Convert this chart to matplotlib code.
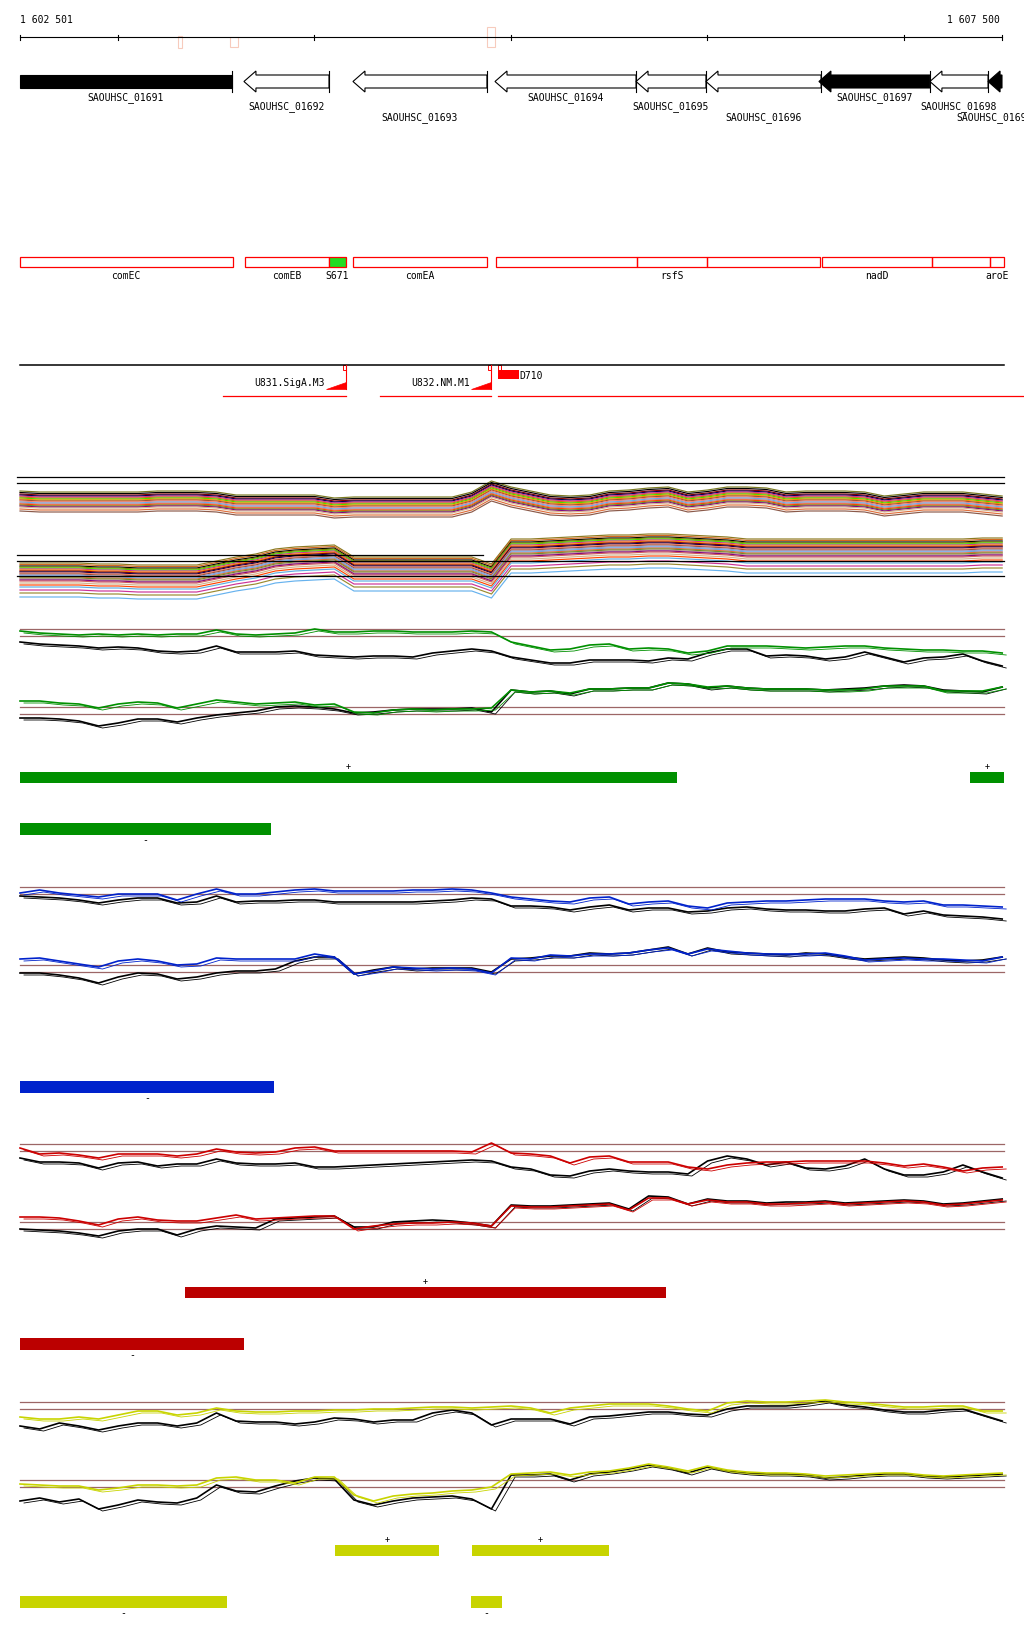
import matplotlib

matplotlib.use("Agg")
import matplotlib.pyplot as plt
import numpy as np
from matplotlib.patches import Polygon, Rectangle

plt.rcParams["font.family"] = ["DejaVu Sans Mono"]

# ---------------------------------------------------------------- window / ruler
WIN_START = 1602501
WIN_END = 1607500
RULER_TICKS = [1602501, 1603000, 1604000, 1605000, 1606000, 1607000, 1607500]
SITE_MARK_START = [1603305, 1603570, 1604878]
SITE_MARK_END = [1603325, 1603611, 1604919]

# ---------------------------------------------------------------- genes
GENE_NAMES = ["SAOUHSC_01691", "SAOUHSC_01692", "SAOUHSC_01693", "SAOUHSC_01694",
              "SAOUHSC_01695", "SAOUHSC_01696", "SAOUHSC_01697", "SAOUHSC_01698",
              "SAOUHSC_01699"]
GENE_START = [1602501, 1603641, 1604196, 1604919, 1605637, 1605993, 1606568, 1607133, 1607429]
GENE_END = [1603580, 1604074, 1604878, 1605637, 1605993, 1606579, 1607133, 1607429, 1607500]
GENE_STRAND = [0, -1, -1, -1, -1, -1, -1, -1, -1]
GENE_FILLED = [True, False, False, False, False, False, True, False, True]

# ---------------------------------------------------------------- annotation boxes
FEAT_NAMES = ["comEC", "comEB", "comEA", "", "rsfS", "", "nadD", "", "aroE"]
FEAT_START = [1602501, 1603646, 1604196, 1604924, 1605642, 1605998, 1606584, 1607144, 1607439]
FEAT_END = [1603583, 1604074, 1604878, 1605642, 1605998, 1606574, 1607144, 1607439, 1607510]
SRNA_NAME = "S671"
SRNA_START = 1604074
SRNA_END = 1604161

# ---------------------------------------------------------------- promoters / terminator
PROM_NAMES = ["U831.SigA.M3", "U832.NM.M1"]
PROM_POS = [1604161, 1604899]
PROM_SPAN_START = [1603534, 1604334]
TERM_NAME = "D710"
TERM_START = 1604934
TERM_END = 1605041

# ---------------------------------------------------------------- expression traces
POS = np.arange(WIN_START, WIN_END + 2, 100)  # one reading every 100 bp

BAND_UPPER = [492, 493, 493, 493, 493, 493, 493, 492, 492, 492, 493, 496, 496, 496, 496, 496, 499,
              498, 498, 498, 498, 498, 498, 493, 482, 488, 492, 496, 497, 496, 492, 491, 489, 488,
              493, 491, 488, 488, 489, 493, 492, 492, 492, 493, 497, 495, 493, 493, 493, 495, 497]
BAND_LOWER = [564, 564, 564, 564, 565, 565, 566, 566, 566, 566, 562, 558, 555, 550, 548, 547, 546,
              558, 558, 558, 558, 558, 558, 558, 565, 540, 540, 539, 538, 537, 536, 536, 535, 535,
              536, 537, 538, 540, 540, 540, 540, 540, 540, 540, 540, 540, 540, 540, 540, 539, 539]
BAND_UPPER_SPREAD = [0, 1.5, 3, 4, 5, 6, 7, 8, 9, 10, 11, 12, 13, 14, 15, 16, 18, 20]
BAND_UPPER_COLORS = ["#7a7a20", "#000000", "#8b0000", "#00004d", "#cc3399", "#d2691e", "#44dd00",
                     "#ff8c00", "#a0522d", "#fa8072", "#66aaee", "#bc8f8f", "#ff4500", "#6b8e23",
                     "#800080", "#d2b48c", "#e0703c", "#8b5a4a"]
BAND_LOWER_SPREAD = [0, 1.5, 3, 4, 5, 6, 7, 8, 9, 10, 11, 12, 13, 14, 15, 16, 17, 18, 20, 22,
                     24, 27, 30, 34]
BAND_LOWER_COLORS = ["#8b7a20", "#d2691e", "#000000", "#808000", "#44dd00", "#cc3399", "#ff8c00",
                     "#8b0000", "#00004d", "#fa8072", "#a0522d", "#9999cc", "#66aaee", "#e0703c",
                     "#6b8e23", "#bc8f8f", "#800080", "#cd5c5c", "#d2b48c", "#ff4500", "#5dade2",
                     "#cc3399", "#9a8a30", "#66b2ee"]

GREEN_UP = [632, 634, 635, 636, 635, 636, 635, 636, 635, 635, 631, 635, 636, 635, 634, 630, 633,
            633, 632, 632, 633, 633, 633, 632, 633, 643, 647, 651, 650, 646, 645, 650, 649, 650,
            654, 652, 647, 647, 647, 648, 649, 648, 647, 647, 649, 650, 651, 651, 652, 652, 654]
GREEN_UP_REF = [643, 645, 646, 647, 649, 648, 649, 652, 653, 652, 647, 653, 653, 653, 652, 656,
                657, 658, 657, 657, 658, 654, 652, 650, 652, 658, 661, 664, 664, 661, 661, 661,
                662, 659, 660, 654, 650, 650, 657, 656, 657, 660, 658, 653, 658, 663, 659, 658,
                655, 662, 667]
GREEN_LO = [702, 702, 704, 705, 709, 705, 703, 704, 709, 705, 701, 703, 705, 704, 703, 706, 705,
            713, 714, 711, 710, 711, 710, 710, 709, 691, 693, 692, 694, 690, 690, 689, 689, 684,
            685, 688, 687, 689, 690, 690, 690, 691, 691, 690, 687, 687, 687, 692, 692, 692, 688]
GREEN_LO_REF = [719, 719, 720, 722, 727, 724, 720, 720, 723, 719, 716, 714, 712, 708, 707, 708,
                710, 714, 713, 711, 710, 710, 710, 709, 713, 691, 693, 692, 695, 690, 690, 689,
                689, 684, 685, 689, 687, 689, 690, 690, 690, 691, 690, 689, 687, 686, 687, 691,
                692, 693, 688]

BLUE_UP = [894, 891, 894, 896, 898, 895, 895, 895, 901, 895, 890, 895, 895, 893, 891, 890, 892,
           892, 892, 892, 891, 891, 890, 891, 894, 898, 900, 902, 903, 899, 898, 905, 903, 902,
           907, 909, 904, 903, 902, 902, 901, 900, 900, 900, 902, 903, 902, 906, 906, 907, 908]
BLUE_UP_REF = [897, 898, 899, 901, 904, 901, 899, 899, 904, 903, 897, 903, 902, 902, 901, 901,
               903, 903, 903, 903, 903, 902, 901, 899, 900, 907, 907, 908, 911, 908, 906, 911,
               909, 909, 913, 912, 909, 908, 910, 911, 911, 912, 912, 910, 909, 915, 912, 916,
               917, 918, 920]
BLUE_LO = [960, 959, 962, 965, 968, 962, 960, 962, 966, 965, 959, 960, 960, 960, 960, 955, 958,
           975, 972, 968, 969, 970, 969, 970, 974, 959, 960, 956, 957, 955, 955, 954, 951, 949,
           955, 950, 952, 954, 955, 955, 955, 954, 957, 961, 960, 959, 960, 960, 961, 962, 958]
BLUE_LO_REF = [974, 974, 976, 979, 984, 978, 974, 975, 980, 978, 974, 972, 972, 970, 962, 958,
               958, 975, 971, 968, 970, 969, 969, 969, 973, 960, 959, 957, 957, 954, 955, 954,
               951, 948, 955, 949, 953, 954, 955, 956, 954, 955, 958, 960, 959, 958, 959, 961,
               962, 961, 958]

RED_UP = [1149, 1155, 1154, 1156, 1159, 1155, 1155, 1155, 1157, 1155, 1150, 1153, 1154, 1153,
          1149, 1148, 1152, 1152, 1152, 1152, 1152, 1152, 1152, 1153, 1144, 1154, 1155, 1157,
          1164, 1158, 1157, 1163, 1163, 1163, 1168, 1170, 1166, 1164, 1163, 1163, 1162, 1162,
          1162, 1162, 1164, 1167, 1165, 1168, 1172, 1169, 1168]
RED_UP_REF = [1159, 1163, 1163, 1164, 1169, 1164, 1163, 1167, 1165, 1165, 1160, 1164, 1165,
              1165, 1164, 1168, 1168, 1167, 1166, 1165, 1164, 1163, 1162, 1161, 1162, 1168,
              1170, 1176, 1177, 1172, 1170, 1172, 1173, 1173, 1175, 1162, 1157, 1160, 1166,
              1163, 1169, 1170, 1167, 1160, 1170, 1176, 1176, 1173, 1166, 1173, 1179]
RED_LO = [1218, 1218, 1219, 1222, 1226, 1220, 1218, 1221, 1222, 1222, 1219, 1216, 1220, 1219,
          1218, 1217, 1217, 1230, 1227, 1225, 1224, 1224, 1223, 1224, 1227, 1207, 1208, 1208,
          1207, 1206, 1205, 1211, 1199, 1199, 1205, 1201, 1203, 1203, 1205, 1205, 1204, 1203,
          1205, 1204, 1203, 1202, 1203, 1206, 1205, 1203, 1201]
RED_LO_REF = [1230, 1231, 1232, 1234, 1237, 1232, 1230, 1230, 1236, 1230, 1227, 1228, 1229,
              1220, 1219, 1218, 1217, 1228, 1228, 1223, 1222, 1221, 1222, 1224, 1227, 1206,
              1207, 1207, 1206, 1205, 1204, 1210, 1197, 1198, 1205, 1200, 1202, 1202, 1204,
              1203, 1203, 1202, 1204, 1203, 1202, 1201, 1202, 1205, 1204, 1202, 1200]

YEL_UP = [1418, 1420, 1420, 1418, 1420, 1416, 1412, 1412, 1416, 1414, 1409, 1412, 1413, 1413,
          1412, 1412, 1411, 1411, 1410, 1410, 1409, 1408, 1408, 1409, 1408, 1407, 1409, 1414,
          1409, 1407, 1405, 1405, 1405, 1407, 1410, 1412, 1404, 1402, 1403, 1403, 1402, 1401,
          1403, 1404, 1406, 1408, 1408, 1407, 1407, 1412, 1412]
YEL_UP_REF = [1427, 1430, 1424, 1427, 1431, 1427, 1424, 1424, 1427, 1424, 1414, 1422, 1423,
              1423, 1425, 1423, 1419, 1420, 1423, 1421, 1421, 1414, 1411, 1414, 1426, 1420,
              1420, 1420, 1425, 1418, 1417, 1415, 1413, 1413, 1415, 1416, 1410, 1407, 1407,
              1407, 1405, 1402, 1406, 1408, 1411, 1413, 1413, 1411, 1410, 1416, 1422]
YEL_LO = [1485, 1486, 1487, 1487, 1491, 1489, 1486, 1486, 1487, 1486, 1479, 1478, 1481, 1481,
          1484, 1478, 1478, 1496, 1502, 1497, 1495, 1494, 1492, 1491, 1488, 1475, 1474, 1473,
          1476, 1473, 1472, 1469, 1465, 1468, 1472, 1467, 1471, 1473, 1474, 1474, 1475, 1477,
          1476, 1475, 1474, 1474, 1476, 1477, 1476, 1475, 1474]
YEL_LO_REF = [1502, 1499, 1503, 1500, 1510, 1506, 1501, 1503, 1504, 1499, 1486, 1492, 1493,
              1487, 1482, 1479, 1480, 1501, 1506, 1502, 1499, 1498, 1497, 1500, 1510, 1476,
              1476, 1475, 1481, 1475, 1473, 1470, 1466, 1469, 1474, 1468, 1472, 1474, 1475,
              1475, 1476, 1479, 1478, 1476, 1475, 1475, 1477, 1478, 1477, 1476, 1475]

# transcribed segments (start, end) per condition, plus and minus strand
GREEN_PLUS = [(1602501, 1605846), (1607337, 1607510)]
GREEN_MINUS = [(1602501, 1603779)]
BLUE_PLUS = []
BLUE_MINUS = [(1602501, 1603794)]
RED_PLUS = [(1603341, 1605788)]
RED_MINUS = [(1602501, 1603641)]
YEL_PLUS = [(1604105, 1604634), (1604802, 1605500)]
YEL_MINUS = [(1602501, 1603555), (1604797, 1604955)]

# ---------------------------------------------------------------- layout (pixel rows)
BP_PER_PX = (WIN_END - WIN_START) / 982.0
X0 = WIN_START - 20 * BP_PER_PX
X1 = X0 + 1024 * BP_PER_PX
RULER_Y = 38
GENE_TOP, GENE_BOT, GENE_HEAD_TOP, GENE_HEAD_BOT = 76, 89, 72, 93
GENE_LABEL_ROWS = [97.5, 106.5, 117.5]
HEAD_BP = 12 * BP_PER_PX
FEAT_TOP, FEAT_BOT, FEAT_LABEL_Y = 258.3, 268.3, 275.7
PROM_LINE_Y = 366
PANEL_TOPS = [630.3, 888.3, 1145.3, 1403.3]
BROWN = "#9c6666"
FS = 7

fig = plt.figure(figsize=(10.24, 16.40), dpi=100)
ax = fig.add_axes([0, 0, 1, 1])
ax.set_xlim(X0, X1)
ax.set_ylim(1640, 0)
ax.axis("off")

# ruler
ax.plot([WIN_START, WIN_END], [RULER_Y, RULER_Y], color="black", lw=0.8)
for t in RULER_TICKS:
    ax.plot([t, t], [RULER_Y - 2.5, RULER_Y + 2.5], color="black", lw=0.8)
ax.text(WIN_START, 20, "1 602 501", fontsize=FS, ha="left", va="center")
ax.text(WIN_END - 2 * BP_PER_PX, 20, "1 607 500", fontsize=FS, ha="right", va="center")
for s, e, (top, bot) in zip(SITE_MARK_START, SITE_MARK_END, [(37, 49), (38, 48), (28, 48)]):
    ax.add_patch(Rectangle((s, top), e - s, bot - top, fill=False, ec="#f7cbbd", lw=0.8))

# genes
mid = (GENE_TOP + GENE_BOT) / 2
for i, name in enumerate(GENE_NAMES):
    s, e = GENE_START[i], GENE_END[i]
    if GENE_STRAND[i] < 0:
        base = min(s + HEAD_BP, e)
        pts = [(s, mid), (base, GENE_HEAD_TOP), (base, GENE_TOP), (e, GENE_TOP),
               (e, GENE_BOT), (base, GENE_BOT), (base, GENE_HEAD_BOT)]
    else:
        pts = [(s, GENE_TOP), (e, GENE_TOP), (e, GENE_BOT), (s, GENE_BOT)]
    fc = "black" if GENE_FILLED[i] else "white"
    ax.add_patch(Polygon(pts, closed=True, fc=fc, ec="black", lw=0.8, joinstyle="miter"))
    if e < WIN_END:
        ax.plot([e, e], [GENE_HEAD_TOP, GENE_HEAD_BOT], color="black", lw=0.8)
    cx = (max(s, WIN_START) + min(e, WIN_END)) / 2
    ax.text(cx, GENE_LABEL_ROWS[i % 3], name, fontsize=FS, ha="center", va="center")

# annotation boxes
for name, s, e in zip(FEAT_NAMES, FEAT_START, FEAT_END):
    ax.add_patch(Rectangle((s, FEAT_TOP), e - s, FEAT_BOT - FEAT_TOP, fill=False,
                           ec="#ff0000", lw=0.9))
    if name:
        ax.text((s + e) / 2, FEAT_LABEL_Y, name, fontsize=FS, ha="center", va="center")
ax.add_patch(Rectangle((SRNA_START, FEAT_TOP), SRNA_END - SRNA_START, FEAT_BOT - FEAT_TOP,
                       fc="#22dd22", ec="#ff0000", lw=0.9))
ax.text((SRNA_START + SRNA_END) / 2, FEAT_LABEL_Y, SRNA_NAME, fontsize=FS, ha="center",
        va="center")

# promoters / terminator
ax.plot([WIN_START, 1607510], [PROM_LINE_Y, PROM_LINE_Y], color="black", lw=1.1)
for name, p, s0 in zip(PROM_NAMES, PROM_POS, PROM_SPAN_START):
    ax.add_patch(Rectangle((p - 3 * BP_PER_PX, PROM_LINE_Y), 3 * BP_PER_PX, 4.5, fill=False,
                           ec="#ff0000", lw=0.7))
    ax.plot([p, p], [PROM_LINE_Y, 390], color="#ff0000", lw=0.8)
    ax.add_patch(Polygon([(p - 20 * BP_PER_PX, 390), (p, 390), (p, 383)], closed=True,
                         fc="#ff0000", ec="#ff0000", lw=0.5))
    ax.text(p - 21 * BP_PER_PX, 383, name, fontsize=FS, ha="right", va="center")
    ax.plot([s0, p], [397, 397], color="#ff0000", lw=0.9)
ax.add_patch(Rectangle((TERM_START, PROM_LINE_Y), 3 * BP_PER_PX, 5, fill=False, ec="#ff0000",
                       lw=0.7))
ax.add_patch(Rectangle((TERM_START, 371), TERM_END - TERM_START, 9, fc="#ff0000", ec="none"))
ax.text(TERM_END, 376, TERM_NAME, fontsize=FS, ha="left", va="center")
ax.plot([TERM_START, X1], [397, 397], color="#ff0000", lw=0.9)

# multi-sample band
up = np.array(BAND_UPPER, dtype=float)
lo = np.array(BAND_LOWER, dtype=float)
for off, c in zip(BAND_UPPER_SPREAD, BAND_UPPER_COLORS):
    ax.plot(POS, up + off, color=c, lw=0.85)
for off, c in zip(BAND_LOWER_SPREAD, BAND_LOWER_COLORS):
    ax.plot(POS, lo + off, color=c, lw=0.85)
for yy in (478.3, 484.3, 562.3, 577.3):
    ax.plot([WIN_START - 3 * BP_PER_PX, 1607510], [yy, yy], color="black", lw=0.9)
ax.plot([WIN_START - 3 * BP_PER_PX, 1604858], [555.7, 555.7], color="black", lw=0.9)

# condition panels
panels = [
    ("#009000", "#009000", GREEN_UP, GREEN_UP_REF, GREEN_LO, GREEN_LO_REF, GREEN_PLUS, GREEN_MINUS),
    ("#0022cc", "#0022cc", BLUE_UP, BLUE_UP_REF, BLUE_LO, BLUE_LO_REF, BLUE_PLUS, BLUE_MINUS),
    ("#cc0000", "#bb0000", RED_UP, RED_UP_REF, RED_LO, RED_LO_REF, RED_PLUS, RED_MINUS),
    ("#c8d400", "#c8d400", YEL_UP, YEL_UP_REF, YEL_LO, YEL_LO_REF, YEL_PLUS, YEL_MINUS),
]
shift = 4 * BP_PER_PX
for top, (lc, bc, u, uref, l, lref, plus, minus) in zip(PANEL_TOPS, panels):
    for dy in (0, 7, 78, 85):
        ax.plot([WIN_START, 1607510], [top + dy, top + dy], color=BROWN, lw=0.9)
    for series, col in ((uref, "black"), (lref, "black"), (u, lc), (l, lc)):
        vals = np.array(series, dtype=float)
        ax.plot(POS + shift, vals + 2, color=col, lw=0.6)
        ax.plot(POS, vals, color=col, lw=1.2)
    for s, e in plus:
        ax.add_patch(Rectangle((s, top + 143), e - s, 10.7, fc=bc, ec="none"))
        ax.text((s + e) / 2, top + 136, "+", fontsize=6, ha="center", va="center")
    for s, e in minus:
        ax.add_patch(Rectangle((s, top + 194), e - s, 11.5, fc=bc, ec="none"))
        ax.text((s + e) / 2, top + 210, "-", fontsize=7, ha="center", va="center")

fig.savefig("out.png", dpi=100)
